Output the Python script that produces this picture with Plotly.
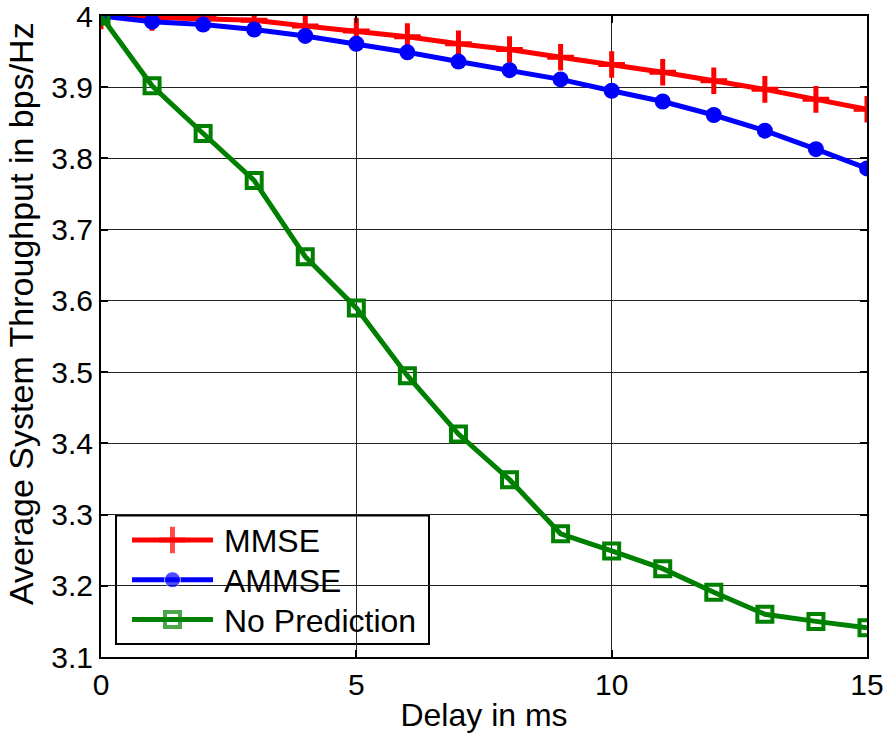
import plotly.graph_objects as go

delay = list(range(16))
mmse = [4.0, 3.998, 3.9965, 3.994, 3.986, 3.979, 3.971, 3.961, 3.953, 3.942, 3.932, 3.921, 3.909, 3.897, 3.883, 3.869]
ammse = [4.0, 3.992, 3.988, 3.981, 3.972, 3.961, 3.949, 3.936, 3.924, 3.911, 3.895, 3.880, 3.861, 3.839, 3.813, 3.786]
nopred = [4.0, 3.902, 3.835, 3.769, 3.662, 3.590, 3.495, 3.413, 3.349, 3.273, 3.249, 3.224, 3.191, 3.160, 3.150, 3.141]
series_names = ["MMSE", "AMMSE", "No Prediction"]
yticks = [3.1, 3.2, 3.3, 3.4, 3.5, 3.6, 3.7, 3.8, 3.9, 4.0]
yticklabels = ["3.1", "3.2", "3.3", "3.4", "3.5", "3.6", "3.7", "3.8", "3.9", "4"]
xticks = [0, 5, 10, 15]
x_title = "Delay in ms"
y_title = "Average System Throughput in bps/Hz"

FONT = "Liberation Sans, Arial, sans-serif"
colors = ["#ff0000", "#0000ff", "#008000"]
LW = 5
markers = [
    dict(symbol="cross-thin", size=19, color=colors[0], line=dict(color=colors[0], width=5)),
    dict(symbol="circle", size=16, color=colors[1]),
    dict(symbol="square-open", size=15, color=colors[2], line=dict(color=colors[2], width=4)),
]

fig = go.Figure()
for name, ys, col, mk in zip(series_names, [mmse, ammse, nopred], colors, markers):
    fig.add_trace(go.Scatter(x=delay, y=ys, name=name, mode="lines+markers",
                             line=dict(color=col, width=LW), marker=mk, showlegend=False))

# Custom MATLAB-style legend (long line samples) drawn in an overlay axis spanning the plot area
leg_x = [0.0405, 0.0933, 0.1462]
leg_rows = [0.1825, 0.1205, 0.0585]
for name, col, mk, yy in zip(series_names, colors, markers, leg_rows):
    mk2 = dict(mk)
    mk2["size"] = [0, mk["size"], 0]
    fig.add_trace(go.Scatter(x=leg_x, y=[yy, yy, yy], mode="lines+markers", xaxis="x2", yaxis="y2",
                             line=dict(color=col, width=LW), marker=mk2, showlegend=False,
                             hoverinfo="skip"))
    fig.add_annotation(x=0.1580, y=yy - 0.002, xref="paper", yref="paper", text=name,
                       xanchor="left", yanchor="middle", showarrow=False,
                       font=dict(family=FONT, size=32, color="black"))

fig.add_shape(type="rect", xref="paper", yref="paper", x0=0.0196, x1=0.4282, y0=0.0202, y1=0.2208,
              line=dict(color="black", width=2), fillcolor="white", layer="between")

# y-axis title placed explicitly (MATLAB puts it close to the left edge)
fig.add_annotation(x=-0.1044, y=0.535, xref="paper", yref="paper", text=y_title, textangle=-90,
                   xanchor="center", yanchor="middle", showarrow=False,
                   font=dict(family=FONT, size=34, color="black"))

axis_common = dict(showline=True, linecolor="black", linewidth=2, mirror="ticks",
                   ticks="inside", ticklen=7, tickcolor="black", tickwidth=1.5,
                   showgrid=True, gridcolor="#222222", gridwidth=1, zeroline=False,
                   automargin=False, ticklabeloverflow="allow",
                   tickfont=dict(family=FONT, size=30, color="black"))

fig.update_layout(
    width=891, height=742,
    paper_bgcolor="white", plot_bgcolor="white",
    margin=dict(l=101, r=24, t=16, b=85),
    font=dict(family=FONT, size=30, color="black"),
    xaxis=dict(range=[0, 15], tickvals=xticks, ticklabelstandoff=0,
               title=dict(text=x_title, font=dict(size=32), standoff=4), **axis_common),
    yaxis=dict(range=[3.1, 4.0], tickvals=yticks, ticktext=yticklabels, **axis_common),
    xaxis2=dict(overlaying="x", range=[0, 1], visible=False, fixedrange=True),
    yaxis2=dict(overlaying="y", range=[0, 1], visible=False, fixedrange=True),
    showlegend=False,
)

fig.write_html("out.html", config={"displayModeBar": False},
               post_script="document.body.style.margin='0';document.body.style.padding='0';document.body.style.overflow='hidden';")
